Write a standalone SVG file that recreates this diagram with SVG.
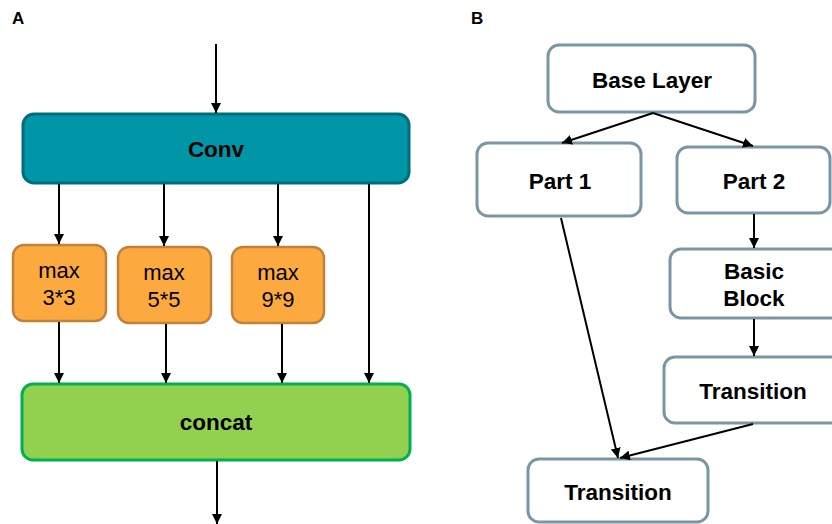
<svg xmlns="http://www.w3.org/2000/svg" width="832" height="524" viewBox="0 0 832 524">
  <defs>
    <marker id="arrow" viewBox="0 0 10 10" refX="10" refY="5" markerWidth="10" markerHeight="10" markerUnits="userSpaceOnUse" orient="auto">
      <path d="M0,0 L10,5 L0,10 Z" fill="#000"/>
    </marker>
    <style>
      text { font-family: "Liberation Sans", Arial, sans-serif; fill: #000; text-anchor: middle; }
      .panel { font-size: 17px; font-weight: bold; text-anchor: start; }
      .bold { font-size: 22.5px; font-weight: bold; }
      .reg { font-size: 22px; }
      .conv { fill: #0096a7; stroke: #006d7a; stroke-width: 3; }
      .pool { fill: #fcaa40; stroke: #c0823a; stroke-width: 2.5; }
      .concat { fill: #92d050; stroke: #00b050; stroke-width: 3; }
      .blk { fill: #fff; stroke: #7a95a3; stroke-width: 3; }
      .edge { stroke: #000; stroke-width: 2; fill: none; marker-end: url(#arrow); }
    </style>
  </defs>
  <rect width="832" height="524" fill="#fff"/>

  <text class="panel" x="12" y="24">A</text>
  <text class="panel" x="471" y="24">B</text>

  <!-- Panel A: spatial pyramid pooling -->
  <g id="conv">
    <rect class="conv" x="23" y="114" width="386" height="69" rx="11"/>
    <text class="bold" x="216" y="157">Conv</text>
  </g>
  <g id="max3">
    <rect class="pool" x="13" y="245" width="93" height="76" rx="11"/>
    <text class="reg" x="59" y="278">max</text>
    <text class="reg" x="59" y="305">3*3</text>
  </g>
  <g id="max5">
    <rect class="pool" x="118" y="247" width="93" height="76" rx="11"/>
    <text class="reg" x="164" y="280">max</text>
    <text class="reg" x="164" y="307">5*5</text>
  </g>
  <g id="max9">
    <rect class="pool" x="232" y="247" width="92" height="76" rx="11"/>
    <text class="reg" x="278" y="280">max</text>
    <text class="reg" x="278" y="307">9*9</text>
  </g>
  <g id="concat">
    <rect class="concat" x="22" y="384" width="388" height="76" rx="11"/>
    <text class="bold" x="216" y="430">concat</text>
  </g>

  <!-- Panel B: cross stage partial block -->
  <g id="base-layer">
    <rect class="blk" x="548" y="45" width="207" height="67" rx="11"/>
    <text class="bold" x="652" y="88">Base Layer</text>
  </g>
  <g id="part1">
    <rect class="blk" x="477" y="143" width="164" height="73" rx="11"/>
    <text class="bold" x="560" y="189">Part 1</text>
  </g>
  <g id="part2">
    <rect class="blk" x="677" y="147" width="153" height="66" rx="11"/>
    <text class="bold" x="754" y="189">Part 2</text>
  </g>
  <g id="basic-block">
    <rect class="blk" x="670" y="249" width="172" height="69" rx="11"/>
    <text class="bold" x="754" y="279">Basic</text>
    <text class="bold" x="754" y="306">Block</text>
  </g>
  <g id="transition-2">
    <rect class="blk" x="664" y="357" width="190" height="66" rx="11"/>
    <text class="bold" x="753" y="399">Transition</text>
  </g>
  <g id="transition-out">
    <rect class="blk" x="528" y="459" width="180" height="63" rx="11"/>
    <text class="bold" x="618" y="500">Transition</text>
  </g>

  <g id="connectors">
    <line class="edge" x1="216" y1="44" x2="216" y2="113"/>
    <line class="edge" x1="59" y1="184" x2="59" y2="244"/>
    <line class="edge" x1="164" y1="184" x2="164" y2="246"/>
    <line class="edge" x1="278" y1="184" x2="278" y2="246"/>
    <line class="edge" x1="369" y1="184" x2="369" y2="383"/>
    <line class="edge" x1="59" y1="322" x2="59" y2="383"/>
    <line class="edge" x1="166" y1="324" x2="166" y2="383"/>
    <line class="edge" x1="282" y1="324" x2="282" y2="383"/>
    <line class="edge" x1="217" y1="461" x2="217" y2="524"/>

    <line class="edge" x1="653" y1="113" x2="562" y2="143"/>
    <line class="edge" x1="653" y1="113" x2="753" y2="146"/>
    <line class="edge" x1="561" y1="218" x2="618" y2="458"/>
    <line class="edge" x1="754" y1="214" x2="754" y2="248"/>
    <line class="edge" x1="754" y1="319" x2="754" y2="356"/>
    <line class="edge" x1="753" y1="424" x2="620" y2="458"/>
  </g>
</svg>
